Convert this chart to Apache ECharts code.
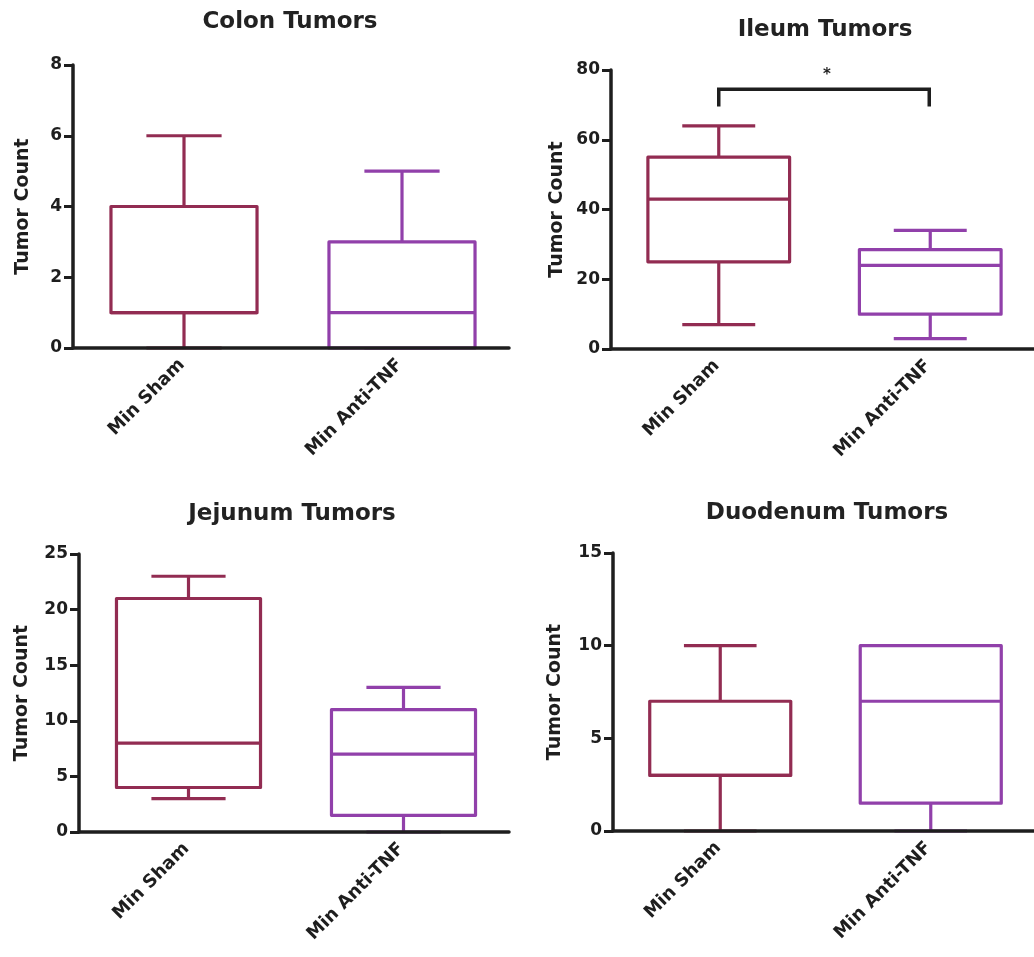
<!DOCTYPE html>
<html>
<head>
<meta charset="utf-8">
<script src="https://cdn.jsdelivr.net/npm/echarts@6/dist/echarts.min.js"></script>
<style>
html,body{margin:0;padding:0;background:#fff;}
#c{width:1034px;height:957px;}
</style>
</head>
<body>
<div id="c"></div>
<script>
// ---------- data ----------
const categories = ['Min Sham', 'Min Anti-TNF'];
const panelTitles = ['Colon Tumors', 'Ileum Tumors', 'Jejunum Tumors', 'Duodenum Tumors'];
const yAxisName = 'Tumor Count';
// [min, q1, median, q3, max]
const colonSham = [0, 1, 1, 4, 6];
const colonAnti = [0, 0, 1, 3, 5];
const ileumSham = [7, 25, 43, 55, 64];
const ileumAnti = [3, 10, 24, 28.5, 34];
const jejunumSham = [3, 4, 8, 21, 23];
const jejunumAnti = [0, 1.5, 7, 11, 13];
const duodenumSham = [0, 3, 3, 7, 10];
const duodenumAnti = [0, 1.5, 7, 10, 10];
const yMax = [8, 80, 25, 15];
const yInterval = [2, 20, 5, 5];
// significance bracket on the Ileum panel
const ileumBracket = [74.5, 69.5]; // bar level, end level
const ileumStarLevel = 78.5;
const ileumStar = '*';

// ---------- styling ----------
const SHAM = '#922c52';
const ANTI = '#9140aa';
const AXIS = '#1e1e1e';
const FONT = 'DejaVu Sans';

const grids = [
  {left: 73, top: 65, width: 436, height: 283},
  {left: 611, top: 70, width: 432, height: 279},
  {left: 79, top: 554, width: 430, height: 278},
  {left: 613, top: 553, width: 430, height: 278}
];
const nameGaps = [40, 44, 47, 48];
const titlePos = [[290, 22], [825, 30], [292, 514], [827, 513]];

const panelData = [
  [colonSham, colonAnti],
  [ileumSham, ileumAnti],
  [jejunumSham, jejunumAnti],
  [duodenumSham, duodenumAnti]
];

function renderBox(params, api) {
  const idx = api.value(0);
  const mn = api.value(1), q1 = api.value(2), md = api.value(3), q3 = api.value(4), mx = api.value(5);
  const x = api.coord([idx, md])[0] + 2;
  const y = v => api.coord([idx, v])[1];
  const band = api.size([1, 0])[0];
  const bw = band * 0.67, cw = band * 0.345;
  const color = idx === 0 ? SHAM : ANTI;
  const st = {stroke: color, lineWidth: 3.2, fill: null, lineJoin: 'round', lineCap: 'butt'};
  const line = (x1, y1, x2, y2) => ({type: 'line', shape: {x1, y1, x2, y2}, style: st});
  return {
    type: 'group',
    children: [
      line(x, y(q3), x, y(mx)),
      line(x, y(q1), x, y(mn)),
      line(x - cw / 2, y(mx), x + cw / 2, y(mx)),
      line(x - cw / 2, y(mn), x + cw / 2, y(mn)),
      {type: 'rect', shape: {x: x - bw / 2, y: y(q3), width: bw, height: y(q1) - y(q3)},
       style: {stroke: color, lineWidth: 3.2, fill: '#fff', lineJoin: 'round'}},
      line(x - bw / 2, y(md), x + bw / 2, y(md))
    ]
  };
}

function renderBracket(params, api) {
  const a = api.coord([0, ileumBracket[0]]);
  const b = api.coord([1, ileumBracket[0]]);
  const yEnd = api.coord([0, ileumBracket[1]])[1];
  const ys = api.coord([0, ileumStarLevel])[1];
  const ax = a[0] + 2, bx = b[0] + 1;
  return {
    type: 'group',
    children: [
      {type: 'polyline', shape: {points: [[ax, yEnd], [ax, a[1]], [bx, b[1]], [bx, yEnd]]},
       style: {stroke: AXIS, lineWidth: 3.5, fill: null, lineJoin: 'miter'}},
      {type: 'text', x: (ax + bx) / 2 + 3, y: ys,
       style: {text: ileumStar, fontFamily: FONT, fontWeight: 'bold', fontSize: 15, fill: AXIS,
               align: 'center', verticalAlign: 'middle'}}
    ]
  };
}

const xAxes = [], yAxes = [], series = [], graphics = [];
grids.forEach((g, i) => {
  xAxes.push({
    type: 'category', gridIndex: i, data: categories, boundaryGap: true, z: 5,
    axisLine: {lineStyle: {color: AXIS, width: 3.5}},
    axisTick: {alignWithLabel: true, length: 8, lineStyle: {color: AXIS, width: 3}},
    axisLabel: {rotate: 45, margin: 14, color: AXIS, fontFamily: FONT, fontWeight: 'bold', fontSize: 18},
    splitLine: {show: false}
  });
  yAxes.push({
    type: 'value', gridIndex: i, min: 0, max: yMax[i], interval: yInterval[i], z: 5,
    name: yAxisName, nameLocation: 'middle', nameGap: nameGaps[i], nameRotate: 90,
    nameTextStyle: {color: AXIS, fontFamily: FONT, fontWeight: 'bold', fontSize: 19},
    axisLine: {show: true, lineStyle: {color: AXIS, width: 3.5}},
    axisTick: {show: true, length: 9, lineStyle: {color: AXIS, width: 3}},
    axisLabel: {margin: 11, color: AXIS, fontFamily: FONT, fontWeight: 'bold', fontSize: 17},
    splitLine: {show: false}
  });
  series.push({
    type: 'custom', xAxisIndex: i, yAxisIndex: i, z: 2,
    renderItem: renderBox,
    encode: {x: 0, y: [1, 2, 3, 4, 5]},
    data: panelData[i].map((d, k) => [k].concat(d))
  });
  graphics.push({
    type: 'text', x: titlePos[i][0], y: titlePos[i][1],
    style: {text: panelTitles[i], fontFamily: FONT, fontWeight: 'bold', fontSize: 23, fill: '#222',
            align: 'center', verticalAlign: 'middle'}
  });
});
series.push({
  type: 'custom', xAxisIndex: 1, yAxisIndex: 1, z: 3,
  renderItem: renderBracket,
  encode: {x: 0, y: 1},
  data: [[0, ileumBracket[0]]]
});

const chart = echarts.init(document.getElementById('c'), null, {renderer: 'canvas'});
chart.setOption({
  animation: false,
  backgroundColor: '#fff',
  grid: grids.map(g => Object.assign({containLabel: false}, g)),
  xAxis: xAxes,
  yAxis: yAxes,
  series: series,
  graphic: graphics
});
</script>
</body>
</html>
